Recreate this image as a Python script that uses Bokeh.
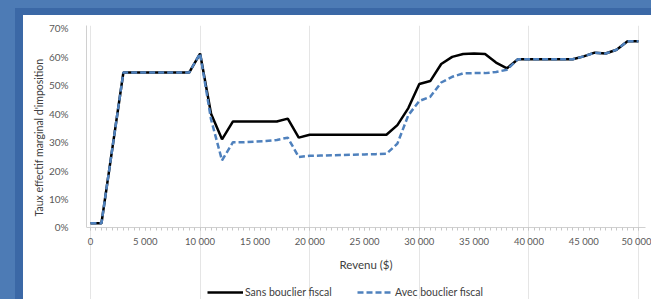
from bokeh.plotting import figure
from bokeh.models import Legend, LegendItem, FixedTicker, Range1d, Title, LinearAxis
from bokeh.embed import file_html
from bokeh.resources import INLINE

# ---- data ----
revenu = list(range(0, 50001, 1000))
sans_bouclier = [1.5, 1.5, 28, 54.5, 54.5, 54.5, 54.5, 54.5, 54.5, 54.5,
                 61.2, 40, 31, 37.3, 37.3, 37.3, 37.3, 37.3, 38.3, 31.6,
                 32.6, 32.6, 32.6, 32.6, 32.6, 32.6, 32.6, 32.6, 36, 42,
                 50.5, 51.5, 57.5, 60, 61, 61.2, 61, 58, 56, 59.2,
                 59.2, 59.2, 59.2, 59.2, 59.2, 60.2, 61.5, 61.2, 62.5, 65.5,
                 65.5]
avec_bouclier = [1.5, 1.5, 28, 54.5, 54.5, 54.5, 54.5, 54.5, 54.5, 54.5,
                 61.2, 38, 23.6, 30, 30, 30.2, 30.4, 30.8, 31.6, 24.8,
                 25.2, 25.3, 25.4, 25.5, 25.6, 25.7, 25.8, 25.9, 29.5, 39.5,
                 44.5, 46, 51, 53, 54.2, 54.3, 54.3, 54.7, 55.5, 59.2,
                 59.2, 59.2, 59.2, 59.2, 59.2, 60.2, 61.5, 61.2, 62.5, 65.5,
                 65.5]
x_ticks = list(range(0, 50001, 5000))
x_tick_labels = ["0", "5 000", "10 000", "15 000", "20 000", "25 000",
                 "30 000", "35 000", "40 000", "45 000", "50 000"]
y_ticks = [0, 10, 20, 30, 40, 50, 60, 70]
y_tick_labels = ["0%", "10%", "20%", "30%", "40%", "50%", "60%", "70%"]
series_names = ["Sans bouclier fiscal", "Avec bouclier fiscal"]
x_title = "Revenu ($)"
y_title = "Taux effectif marginal d'imposition"

FONT = "Lato"
W, H = 651, 299
Y_TOP = 71.05
X_START, X_AXIS_END = -365, 50640

# frame spans to the figure's right and bottom edges; the x axis sits at y = 0
p = figure(width=W, height=H, output_backend="svg", toolbar_location=None,
           x_range=Range1d(X_START, 51186), y_range=Range1d(-25.33, Y_TOP),
           x_axis_location=None,
           min_border_left=86, min_border_right=0, min_border_top=25,
           min_border_bottom=0)
p.border_fill_alpha = 0
p.styles = {
    "background": ("linear-gradient(#ffffff, #ffffff) 23px 15px / 100% 100% no-repeat, "
                   "linear-gradient(#3b68a6, #3b68a6) 15px 8px / 100% 100% no-repeat, "
                   "#4d7bb5"),
}
p.background_fill_color = "white"
p.outline_line_color = None
p.ygrid.grid_line_color = None

r1 = p.line(revenu, sans_bouclier, line_color="black", line_width=2.5)
r2 = p.line(revenu, avec_bouclier, line_color="#4f81bd", line_width=2.5,
            line_dash="6 3")

# x axis (placed at y = 0 inside the frame area)
xa = LinearAxis(fixed_location=0, bounds=(X_START, X_AXIS_END))
xa.ticker = FixedTicker(ticks=x_ticks,
                        minor_ticks=list(range(0, 50001, 500)))
xa.major_label_overrides = {t: l for t, l in zip(x_ticks, x_tick_labels)}
xa.axis_line_color = "#d0d0d0"
xa.major_tick_line_color = "#c8c8c8"
xa.minor_tick_line_color = "#c8c8c8"
xa.major_tick_out = 3
xa.major_tick_in = 0
xa.minor_tick_out = 3
xa.minor_tick_in = 0
xa.major_label_text_font = FONT
xa.major_label_text_font_size = "9.5px"
xa.major_label_text_color = "#595959"
xa.major_label_standoff = 6
xa.axis_label = x_title
xa.axis_label_text_font = FONT
xa.axis_label_text_font_size = "11.5px"
xa.axis_label_text_font_style = "normal"
xa.axis_label_text_color = "#404040"
xa.axis_label_standoff = 7
p.add_layout(xa, "below")

ya = p.yaxis[0]
ya.ticker = FixedTicker(ticks=y_ticks, minor_ticks=[])
ya.bounds = (0, Y_TOP)
ya.major_label_overrides = {t: l for t, l in zip(y_ticks, y_tick_labels)}
ya.axis_line_color = "#d0d0d0"
ya.major_tick_line_color = None
ya.minor_tick_line_color = None
ya.major_label_text_font = FONT
ya.major_label_text_font_size = "10px"
ya.major_label_text_color = "#595959"
ya.major_label_standoff = 12

p.add_layout(Title(text=y_title, align="left", offset=83,
                   vertical_align="middle", standoff=0,
                   text_font=FONT, text_font_size="10.5px",
                   text_font_style="normal", text_color="#404040"), "left")

legend = Legend(items=[LegendItem(label=series_names[0], renderers=[r1]),
                       LegendItem(label=series_names[1], renderers=[r2])],
                location=(121, 1), orientation="horizontal",
                label_text_font=FONT, label_text_font_size="10.5px",
                label_text_color="#404040", glyph_width=36, glyph_height=12,
                label_standoff=2, label_width=100, spacing=12, padding=0,
                margin=0, border_line_color=None, background_fill_alpha=0)
p.add_layout(legend)

open("out.html", "w").write(file_html(p, INLINE))
